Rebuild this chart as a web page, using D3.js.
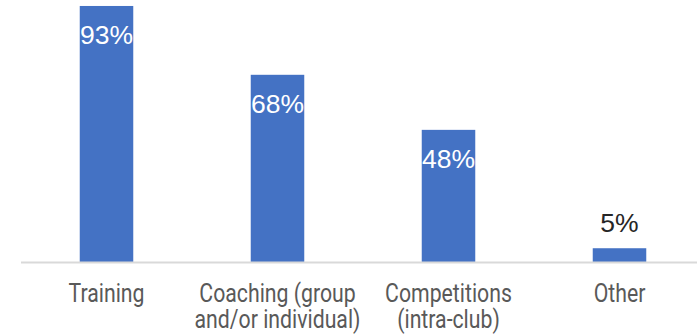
<!DOCTYPE html>
<html>
<head>
<meta charset="utf-8">
<script src="https://cdn.jsdelivr.net/npm/d3@7"></script>
<style>
  body { margin: 0; background: #fff; }
</style>
</head>
<body>
<div id="wrapper"></div>
<script>
const categories = ["Training", "Coaching", "Competitions", "Other"];
const tickLabels = [["Training"], ["Coaching (group", "and/or individual)"], ["Competitions", "(intra-club)"], ["Other"]];
const values = [93, 68, 48, 5];

function drawBars() {
  const dimensions = {
    width: 697,
    height: 336,
    baseline: 262,
    left: 21,
    step: 171,
  };

  const svg = d3.select("#wrapper")
    .append("svg")
    .attr("width", dimensions.width)
    .attr("height", dimensions.height);

  const xScale = d3.scaleBand()
    .domain(categories)
    .range([dimensions.left, dimensions.left + dimensions.step * categories.length])
    .paddingInner(0.687)
    .paddingOuter(0.3435);

  const yScale = d3.scaleLinear()
    .domain([0, 100])
    .range([dimensions.baseline, dimensions.baseline - 275.3]);

  const center = i => xScale(categories[i]) + xScale.bandwidth() / 2;

  svg.append("g")
    .selectAll("rect")
    .data(values)
    .join("rect")
    .attr("x", (d, i) => xScale(categories[i]))
    .attr("y", d => yScale(d))
    .attr("width", xScale.bandwidth())
    .attr("height", d => yScale(0) - yScale(d))
    .attr("fill", "#4472c4");

  // baseline axis
  svg.append("line")
    .attr("x1", xScale.range()[0])
    .attr("x2", xScale.range()[1])
    .attr("y1", yScale(0) + 0.5)
    .attr("y2", yScale(0) + 0.5)
    .attr("stroke", "#d9d9d9")
    .attr("stroke-width", 2);

  // data labels: inside for tall bars, above for short ones
  svg.append("g")
    .selectAll("text")
    .data(values)
    .join("text")
    .attr("x", (d, i) => center(i))
    .attr("y", d => d < 10 ? yScale(d) - 16 : yScale(d) + 38)
    .attr("text-anchor", "middle")
    .attr("font-family", "'Liberation Sans', Arial, sans-serif")
    .attr("font-size", 26.5)
    .attr("fill", d => d < 10 ? "#262626" : "#ffffff")
    .text(d => d + "%");

  // category labels (narrow, tall glyphs -> squeeze horizontally)
  const ticks = svg.append("g")
    .selectAll("text")
    .data(tickLabels)
    .join("text")
    .attr("transform", (d, i) => `translate(${center(i)}, 302) scale(0.85, 1)`)
    .attr("text-anchor", "middle")
    .attr("font-family", "Roboto, sans-serif")
    .attr("font-size", 25)
    .attr("fill", "#595959");

  ticks.selectAll("tspan")
    .data(d => d)
    .join("tspan")
    .attr("x", 0)
    .attr("dy", (d, i) => i === 0 ? 0 : 26)
    .text(d => d);
}

drawBars();
</script>
</body>
</html>
